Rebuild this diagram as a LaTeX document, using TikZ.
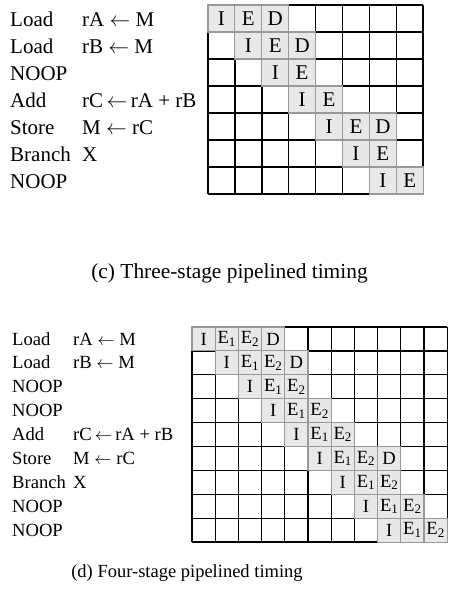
\documentclass[tikz,border=0pt]{standalone}
\usepackage{fontspec}
\setmainfont{Liberation Serif}

\tikzset{
  gridline/.style={line width=1.5pt},
  stagecell/.style={fill=gray!18, draw=gray!80, line width=1.1pt, inner sep=0pt},
  optext/.style={inner sep=0pt, anchor=base west}
}

\begin{document}
\begin{tikzpicture}[x=1pt, y=-1pt]
    \useasboundingbox (0,0) rectangle (454,592);

    % three-stage program
    \foreach \op/\arg [count=\k from 0] in {Load/rA $\leftarrow$ M, Load/rB $\leftarrow$ M, NOOP/{}, Add/rC\,$\leftarrow$\,rA + rB, Store/M $\leftarrow$ rC, Branch/X, NOOP/{}}{
        \node[optext, font=\fontsize{21}{21}\selectfont] (opc-\k) at (10, 26+27*\k) {\op};
        \node[optext, font=\fontsize{21}{21}\selectfont] (argc-\k) at (82, 26+27*\k) {\arg};
    }

    % three-stage timing grid
    \begin{scope}[shift={(208,5)}, x=26.9pt, y=-27pt]
        \foreach \i in {0,...,8} \draw[gridline] (\i,0) -- (\i,7);
        \foreach \j in {0,...,7} \draw[gridline] (0,\j) -- (8,\j);
        \foreach \r/\c/\s in {0/0/I,0/1/E,0/2/D, 1/1/I,1/2/E,1/3/D, 2/2/I,2/3/E, 3/3/I,3/4/E,
                              4/4/I,4/5/E,4/6/D, 5/5/I,5/6/E, 6/6/I,6/7/E}
            \node[stagecell, minimum width=26.9pt, minimum height=27pt, font=\fontsize{21}{21}\selectfont] (c-\r-\c) at (\c+.5,\r+.5) {\s};
    \end{scope}

    \node[inner sep=0pt, anchor=base, font=\fontsize{21.4}{21.4}\selectfont] (capc) at (229.5,278) {(c) Three-stage pipelined timing};

    % four-stage program
    \foreach \op/\arg [count=\k from 0] in {Load/rA $\leftarrow$ M, Load/rB $\leftarrow$ M, NOOP/{}, NOOP/{}, Add/rC\,$\leftarrow$\,rA + rB, Store/M $\leftarrow$ rC, Branch/X, NOOP/{}, NOOP/{}}{
        \node[optext, font=\fontsize{18.6}{18.6}\selectfont] (opd-\k) at (12, 345+23.9*\k) {\op};
        \node[optext, font=\fontsize{18.6}{18.6}\selectfont] (argd-\k) at (73, 345+23.9*\k) {\arg};
    }

    % four-stage timing grid
    \begin{scope}[shift={(192,327)}, x=23.2pt, y=-23.9pt]
        \foreach \i in {0,...,11} \draw[gridline, line width=1.3pt] (\i,0) -- (\i,9);
        \foreach \j in {0,...,9} \draw[gridline, line width=1.3pt] (0,\j) -- (11,\j);
        \foreach \r/\c/\s in {0/0/I,0/1/E\textsubscript{1},0/2/E\textsubscript{2},0/3/D,
                              1/1/I,1/2/E\textsubscript{1},1/3/E\textsubscript{2},1/4/D,
                              2/2/I,2/3/E\textsubscript{1},2/4/E\textsubscript{2},
                              3/3/I,3/4/E\textsubscript{1},3/5/E\textsubscript{2},
                              4/4/I,4/5/E\textsubscript{1},4/6/E\textsubscript{2},
                              5/5/I,5/6/E\textsubscript{1},5/7/E\textsubscript{2},5/8/D,
                              6/6/I,6/7/E\textsubscript{1},6/8/E\textsubscript{2},
                              7/7/I,7/8/E\textsubscript{1},7/9/E\textsubscript{2},
                              8/8/I,8/9/E\textsubscript{1},8/10/E\textsubscript{2}}
            \node[stagecell, minimum width=23.2pt, minimum height=23.9pt, font=\fontsize{18.6}{18.6}\selectfont] (d-\r-\c) at (\c+.5,\r+.5) {\s};
    \end{scope}

    \node[inner sep=0pt, anchor=base, font=\fontsize{18.5}{18.5}\selectfont] (capd) at (187,577) {(d) Four-stage pipelined timing};

\end{tikzpicture}
\end{document}
